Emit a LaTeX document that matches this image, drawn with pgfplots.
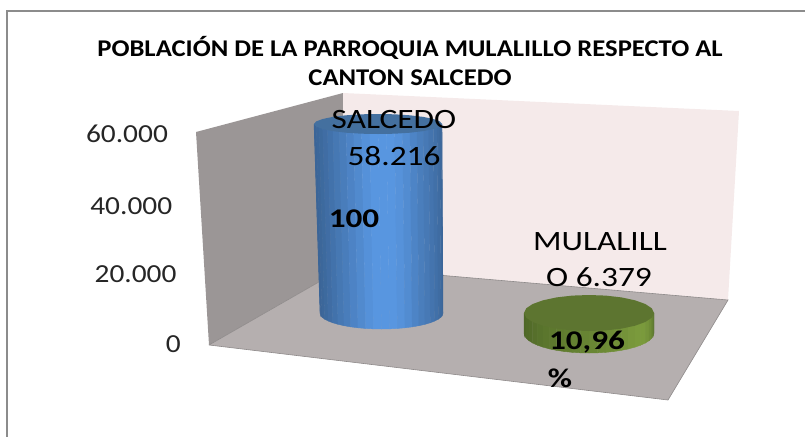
\documentclass[border=0pt]{standalone}
\usepackage{fontspec}
\usepackage{graphicx}
\setmainfont{Carlito}
\usepackage{pgfplots}
\pgfplotsset{compat=1.18}
\definecolor{frame}{HTML}{8C8C8C}
\definecolor{wallL}{HTML}{9B9696}
\definecolor{wallB}{HTML}{F5EAEA}
\definecolor{floorc}{HTML}{B5AFAF}
\definecolor{edgec}{HTML}{8E8A8A}
\definecolor{bluedark}{HTML}{3A6496}
\definecolor{bluelight}{HTML}{5896E0}
\definecolor{bluetop}{HTML}{44709F}
\definecolor{greendark}{HTML}{4A6225}
\definecolor{greenlight}{HTML}{7A9A3C}
\definecolor{greentop}{HTML}{5D7530}
\newcommand{\tlab}[1]{\scalebox{1.13}[1]{\fontsize{26}{26}\selectfont #1}}
\newcommand{\lab}[1]{\scalebox{1.19}[1]{\fontsize{28}{28}\selectfont #1}}
\newcommand{\blab}[1]{\scalebox{1.23}[1]{\fontsize{27}{27}\selectfont\bfseries #1}}
% one vertical strip of a cylinder side: top x, bottom x, bottom y, next bottom x, next bottom y, next top x, shade
\newcommand{\bs}[7]{\addplot[fill=bluelight!#7!bluedark,draw=bluelight!#7!bluedark,line width=0.4pt] coordinates {(#1,124) (#2,#3) (#4,#5) (#6,124) (#1,124)};}
\newcommand{\gs}[7]{\addplot[fill=greenlight!#7!greendark,draw=greenlight!#7!greendark,line width=0.4pt] coordinates {(#1,313) (#2,#3) (#4,#5) (#6,313) (#1,313)};}
\begin{document}
\begin{tikzpicture}[x=1pt,y=1pt]
\useasboundingbox (0,0) rectangle (805,437);
\begin{axis}[at={(0,0)},anchor=south west,scale only axis,width=805pt,height=437pt,
  xmin=0,xmax=805,ymin=0,ymax=437,y dir=reverse,axis lines=none,clip=false]
\addplot[draw=frame,line width=2.5pt] coordinates {(805,11) (7,11) (7,437)};
\addplot[fill=wallL,draw=none] coordinates {(196,132) (343,93) (345,267) (209,345) (196,132)};
\addplot[fill=wallB,draw=none] coordinates {(343,93) (739,111) (728,300) (345,267) (343,93)};
\addplot[fill=floorc,draw=edgec,line width=0.6pt] coordinates {(209,345) (345,267) (728,300) (668,400) (209,345)};
% SALCEDO cylinder
\bs{314}{320}{313}{320.53}{315.09}{314.55}{2}
\bs{314.55}{320.53}{315.09}{322.1}{317.14}{316.18}{3}
\bs{316.18}{322.1}{317.14}{324.68}{319.12}{318.87}{6}
\bs{318.87}{324.68}{319.12}{328.24}{321}{322.58}{11}
\bs{322.58}{328.24}{321}{332.71}{322.74}{327.22}{19}
\bs{327.22}{332.71}{322.74}{338.01}{324.31}{332.75}{28}
\bs{332.75}{338.01}{324.31}{344.06}{325.69}{339.04}{39}
\bs{339.04}{344.06}{325.69}{350.75}{326.86}{346}{50}
\bs{346}{350.75}{326.86}{357.96}{327.78}{353.51}{63}
\bs{353.51}{357.96}{327.78}{365.58}{328.45}{361.44}{76}
\bs{361.44}{365.58}{328.45}{373.47}{328.86}{369.65}{90}
\bs{369.65}{373.47}{328.86}{381.5}{329}{378}{100}
\bs{378}{381.5}{329}{389.53}{328.86}{386.35}{100}
\bs{386.35}{389.53}{328.86}{397.42}{328.45}{394.56}{100}
\bs{394.56}{397.42}{328.45}{405.04}{327.78}{402.49}{92}
\bs{402.49}{405.04}{327.78}{412.25}{326.86}{410}{80}
\bs{410}{412.25}{326.86}{418.94}{325.69}{416.96}{65}
\bs{416.96}{418.94}{325.69}{424.99}{324.31}{423.25}{52}
\bs{423.25}{424.99}{324.31}{430.29}{322.74}{428.78}{42}
\bs{428.78}{430.29}{322.74}{434.76}{321}{433.42}{32}
\bs{433.42}{434.76}{321}{438.32}{319.12}{437.13}{24}
\bs{437.13}{438.32}{319.12}{440.9}{317.14}{439.82}{16}
\bs{439.82}{440.9}{317.14}{442.47}{315.09}{441.45}{9}
\bs{441.45}{442.47}{315.09}{443}{313}{442}{4}
\addplot[fill=bluetop,draw=none] coordinates {(442,124) (439.8,126.6) (433.4,129) (423.3,131.1) (410,132.7) (394.6,133.7) (378,134) (361.4,133.7) (346,132.7) (332.7,131.1) (322.6,129) (316.2,126.6) (314,124) (316.2,121.4) (322.6,119) (332.7,116.9) (346,115.3) (361.4,114.3) (378,114) (394.6,114.3) (410,115.3) (423.3,116.9) (433.4,119) (439.8,121.4) (442,124)};
% MULALILLO cylinder
\gs{524}{524}{333}{524.56}{335.61}{524.56}{8}
\gs{524.56}{524.56}{335.61}{526.22}{338.18}{526.22}{10}
\gs{526.22}{526.22}{338.18}{528.95}{340.65}{528.95}{14}
\gs{528.95}{528.95}{340.65}{532.71}{343}{532.71}{18}
\gs{532.71}{532.71}{343}{537.43}{345.18}{537.43}{24}
\gs{537.43}{537.43}{345.18}{543.04}{347.14}{543.04}{30}
\gs{543.04}{543.04}{347.14}{549.43}{348.87}{549.43}{35}
\gs{549.43}{549.43}{348.87}{556.5}{350.32}{556.5}{40}
\gs{556.5}{556.5}{350.32}{564.12}{351.48}{564.12}{45}
\gs{564.12}{564.12}{351.48}{572.18}{352.32}{572.18}{50}
\gs{572.18}{572.18}{352.32}{580.52}{352.83}{580.52}{55}
\gs{580.52}{580.52}{352.83}{589}{353}{589}{60}
\gs{589}{589}{353}{597.48}{352.83}{597.48}{65}
\gs{597.48}{597.48}{352.83}{605.82}{352.32}{605.82}{70}
\gs{605.82}{605.82}{352.32}{613.88}{351.48}{613.88}{75}
\gs{613.88}{613.88}{351.48}{621.5}{350.32}{621.5}{82}
\gs{621.5}{621.5}{350.32}{628.57}{348.87}{628.57}{88}
\gs{628.57}{628.57}{348.87}{634.96}{347.14}{634.96}{95}
\gs{634.96}{634.96}{347.14}{640.57}{345.18}{640.57}{100}
\gs{640.57}{640.57}{345.18}{645.29}{343}{645.29}{100}
\gs{645.29}{645.29}{343}{649.05}{340.65}{649.05}{90}
\gs{649.05}{649.05}{340.65}{651.78}{338.18}{651.78}{75}
\gs{651.78}{651.78}{338.18}{653.44}{335.61}{653.44}{55}
\gs{653.44}{653.44}{335.61}{654}{333}{654}{35}
\addplot[fill=greentop,draw=none] coordinates {(654,313) (651.8,317.7) (645.3,322) (635,325.7) (621.5,328.6) (605.8,330.4) (589,331) (572.2,330.4) (556.5,328.6) (543,325.7) (532.7,322) (526.2,317.7) (524,313) (526.2,308.3) (532.7,304) (543,300.3) (556.5,297.4) (572.2,295.6) (589,295) (605.8,295.6) (621.5,297.4) (635,300.3) (645.3,304) (651.8,308.3) (654,313)};
\node at (axis cs:410,48) {\scalebox{1.11}[1]{\fontsize{24}{24}\selectfont\bfseries POBLACIÓN DE LA PARROQUIA MULALILLO RESPECTO AL}};
\node at (axis cs:410,78) {\scalebox{1.11}[1]{\fontsize{24}{24}\selectfont\bfseries CANTON SALCEDO}};
\node at (axis cs:394,120) {\lab{SALCEDO}};
\node at (axis cs:394,156) {\lab{58.216}};
\node at (axis cs:354,219) {\blab{100}};
\node at (axis cs:600,242) {\lab{MULALILL}};
\node at (axis cs:599,277) {\lab{O 6.379}};
\node at (axis cs:587,342) {\blab{10,96}};
\node at (axis cs:560,378) {\blab{\%}};
\end{axis}
\begin{axis}[at={(181pt,0)},anchor=south west,scale only axis,width=10pt,height=437pt,
  xmin=0,xmax=1,ymin=-26571,ymax=98286,hide x axis,axis y line*=left,
  axis line style={draw=none},major tick length=0pt,tick style={draw=none},
  ytick={0,20000,40000,60000},scaled y ticks=false,
  yticklabel={\tlab{\pgfmathprintnumber{\tick}}},
  /pgf/number format/.cd,1000 sep={.},assume math mode=true,
  /tikz/.cd,
  yticklabel style={anchor=east,inner sep=0pt,xshift=\ticknum*-4.3pt,yshift={ifthenelse(\ticknum==2,-2.5,0)}},
  tick label style={text=black!85}]
\addplot[draw=none] coordinates {(0,0) (1,0)};
\end{axis}
\end{tikzpicture}
\end{document}
